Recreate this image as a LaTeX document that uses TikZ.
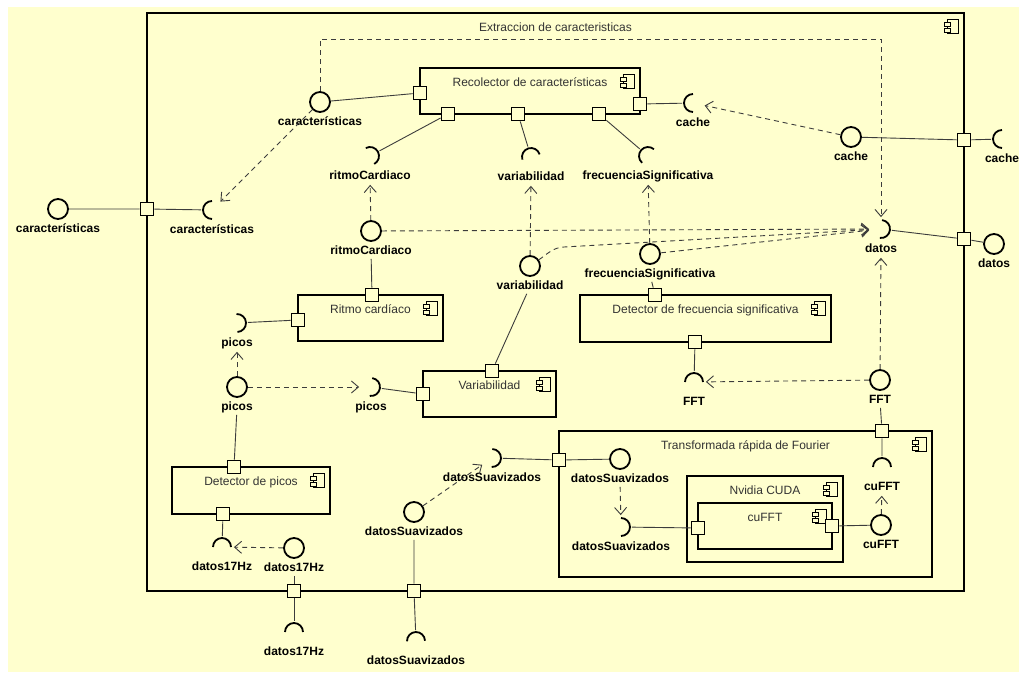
\documentclass[tikz,border=0pt]{standalone}
\usepackage{fontspec}
\setmainfont{Liberation Sans}
\usepackage{xcolor}
\definecolor{umlbg}{RGB}{255,255,206}
\definecolor{umlline}{RGB}{60,60,60}
\definecolor{umltitle}{RGB}{51,51,51}
\usetikzlibrary{positioning, calc, shapes.geometric, arrows.meta}
\tikzstyle{Comp} = [draw, line width=1.8pt, rectangle, inner sep=0pt, outer sep=0pt]
\tikzstyle{Ttl} = [anchor=base, yshift=-18pt, inner sep=0pt, text=umltitle,
        font=\fontsize{12pt}{14pt}\selectfont]
\tikzstyle{Port} = [draw, line width=1.8pt, fill=umlbg, rectangle, minimum size=13pt, inner sep=0pt]
\tikzstyle{Ball} = [draw, line width=1.8pt, circle, minimum size=20pt, inner sep=0pt]
\tikzstyle{Socket} = [circle, line width=1.8pt, minimum size=20pt, inner sep=0pt]
\tikzstyle{Lbl} = [font=\fontsize{12pt}{14pt}\selectfont\bfseries, text height=9pt,
        text depth=3pt, inner sep=1pt, yshift=-2.5pt]
\tikzstyle{Conn} = [umlline, line width=0.9pt]
\tikzstyle{Dep} = [
umlline, line width=0.9pt,
dash pattern=on 5pt off 4pt,
-{Straight Barb[length=7pt,width=12pt]},
shorten >= 1pt]
\tikzset{compicon/.pic={
    \draw[line width=0.8pt] (-4,-7) rectangle (7,7);
    \draw[line width=0.8pt, fill=umlbg] (-7,0.5) rectangle (-1,4.5);
    \draw[line width=0.8pt, fill=umlbg] (-7,-5.5) rectangle (-1,-1.5);
}}
% socket arc, bulging towards the given angle
\newcommand{\sockarc}[2]{\draw[line width=1.8pt] ([shift={(#2+90:9pt)}]#1.center)
    arc[start angle=#2+90, delta angle=-180, radius=9pt];}

\begin{document}
\begin{tikzpicture}[x=1pt, y=1pt, font=\fontsize{12pt}{14pt}\selectfont]
    \useasboundingbox (0,0) rectangle (1019,-672);
    \fill[white] (0,0) rectangle (1019,-672);
    \fill[umlbg] (8,-7) rectangle (1019,-672);

    % components
    \node[Comp, minimum width=817pt, minimum height=578pt,
        label={[Ttl]north:Extraccion de caracteristicas}] (cExt) at (555.5,-302) {};
    \node[Comp, minimum width=220pt, minimum height=46pt,
        label={[Ttl]north:Recolector de características}] (cRec) at (530,-91) {};
    \node[Comp, minimum width=145pt, minimum height=46pt,
        label={[Ttl]north:Ritmo cardíaco}] (cRit) at (370.5,-318) {};
    \node[Comp, minimum width=133pt, minimum height=46pt,
        label={[Ttl]north:Variabilidad}] (cVar) at (489.5,-394) {};
    \node[Comp, minimum width=251pt, minimum height=47pt,
        label={[Ttl]north:Detector de frecuencia significativa}] (cDF) at (705.5,-318.5) {};
    \node[Comp, minimum width=158pt, minimum height=47pt,
        label={[Ttl]north:Detector de picos}] (cPic) at (251,-490.5) {};
    \node[Comp, minimum width=373pt, minimum height=146pt,
        label={[Ttl]north:Transformada rápida de Fourier}] (cTr) at (745.5,-504) {};
    \node[Comp, minimum width=156pt, minimum height=86pt,
        label={[Ttl]north:Nvidia CUDA}] (cNv) at (765,-519) {};
    \node[Comp, minimum width=134pt, minimum height=46pt,
        label={[Ttl]north:cuFFT}] (cCu) at (765,-526) {};
    \foreach \c in {cExt,cRec,cRit,cVar,cDF,cPic,cTr,cNv,cCu}
        \pic at ([shift={(-13,-13.5)}]\c.north east) {compicon};

    % ports
    \node[Port] (pCarOut) at (147,-209) {};
    \node[Port] (pCache) at (964,-140) {};
    \node[Port] (pDatos) at (964,-239) {};
    \node[Port] (pD17) at (294,-591) {};
    \node[Port] (pDS) at (414,-591) {};
    \node[Port] (pRecL) at (420,-93) {};
    \node[Port] (pRecR) at (640,-104) {};
    \node[Port] (pRecB1) at (448,-114) {};
    \node[Port] (pRecB2) at (518,-114) {};
    \node[Port] (pRecB3) at (599,-114) {};
    \node[Port] (pRitT) at (372,-295) {};
    \node[Port] (pRitL) at (298,-320) {};
    \node[Port] (pVarT) at (492,-371) {};
    \node[Port] (pVarL) at (423,-394) {};
    \node[Port] (pDFT) at (655,-295) {};
    \node[Port] (pDFB) at (695,-342) {};
    \node[Port] (pPicT) at (234,-467) {};
    \node[Port] (pPicB) at (223,-514) {};
    \node[Port] (pTrL) at (559,-460) {};
    \node[Port] (pTrT) at (882,-431) {};
    \node[Port] (pCuL) at (698,-528) {};
    \node[Port] (pCuR) at (832,-526) {};

    % provided interfaces
    \node[Ball, label={[Lbl]below:características}] (bCarOut) at (58,-209) {};
    \node[Ball, label={[Lbl]below:características}] (bCarIn) at (320,-102) {};
    \node[Ball, label={[Lbl]below:cache}] (bCache) at (851,-137) {};
    \node[Ball, label={[Lbl]below:datos}] (bDatos) at (994,-244) {};
    \node[Ball, label={[Lbl,name=lRit]below:ritmoCardiaco}] (bRit) at (371,-231) {};
    \node[Ball, label={[Lbl,name=lVar]below:variabilidad}] (bVar) at (530,-266) {};
    \node[Ball, label={[Lbl,name=lFS]below:frecuenciaSignificativa}] (bFS) at (650,-254) {};
    \node[Ball, label={[Lbl,name=lPic]below:picos}] (bPic) at (237,-387) {};
    \node[Ball, label={[Lbl,name=lFFT]below:FFT}] (bFFT) at (880,-380) {};
    \node[Ball, label={[Lbl,name=lD17]below:datos17Hz}] (bD17) at (294,-548) {};
    \node[Ball, label={[Lbl,name=lDS]below:datosSuavizados}] (bDS) at (414,-512) {};
    \node[Ball, label={[Lbl,name=lDSt]below:datosSuavizados}] (bDSt) at (620,-459) {};
    \node[Ball, label={[Lbl]below:cuFFT}] (bCu) at (881,-525) {};

    % required interfaces
    \node[Socket, label={[Lbl]below:características}] (sCar) at (212,-210) {};
    \node[Socket, label={[Lbl]below:cache}] (sCache) at (693,-103) {};
    \node[Socket, label={[Lbl]below:cache}] (sCacheOut) at (1002,-139) {};
    \node[Socket, label={[Lbl,name=lsDatos]below:datos}] (sDatos) at (881,-229) {};
    \node[Socket, label={[Lbl,name=lsRit]below:ritmoCardiaco}] (sRit) at (370,-156) {};
    \node[Socket, label={[Lbl,name=lsVar]below:variabilidad}] (sVar) at (531,-157) {};
    \node[Socket, label={[Lbl,name=lsFS]below:frecuenciaSignificativa}] (sFS) at (648,-156) {};
    \node[Socket, label={[Lbl,name=lsPic]below:picos}] (sPicA) at (237,-323) {};
    \node[Socket, label={[Lbl]below:picos}] (sPicB) at (371,-387) {};
    \node[Socket, label={[Lbl]below:FFT}] (sFFT) at (694,-382) {};
    \node[Socket, label={[Lbl]below:datos17Hz}] (sD17) at (222,-547) {};
    \node[Socket, label={[Lbl]below:datos17Hz}] (sD17Out) at (294,-632) {};
    \node[Socket, label={[Lbl]below:datosSuavizados}] (sDSOut) at (416,-641) {};
    \node[Socket, label={[Lbl]below:datosSuavizados}] (sDS) at (492,-458) {};
    \node[Socket, label={[Lbl]below:datosSuavizados}] (sDSt) at (621,-527) {};
    \node[Socket, label={[Lbl,name=lsCu]below:cuFFT}] (sCu) at (882,-467) {};

    \sockarc{sCar}{180}
    \sockarc{sCache}{180}
    \sockarc{sCacheOut}{180}
    \sockarc{sDatos}{-7}
    \sockarc{sRit}{28}
    \sockarc{sVar}{107}
    \sockarc{sFS}{139}
    \sockarc{sPicA}{3}
    \sockarc{sPicB}{-8}
    \sockarc{sFFT}{90}
    \sockarc{sD17}{90}
    \sockarc{sD17Out}{90}
    \sockarc{sDSOut}{92}
    \sockarc{sDS}{-2}
    \sockarc{sDSt}{0}
    \sockarc{sCu}{90}

    % assembly connectors
    \draw[Conn] (bCarOut) -- (pCarOut) -- (sCar);
    \draw[Conn] (bCarIn) -- (pRecL);
    \draw[Conn] (pRecR) -- (sCache);
    \draw[Conn] (pRecB1) -- (sRit);
    \draw[Conn] (pRecB2) -- (sVar);
    \draw[Conn] (pRecB3) -- (sFS);
    \draw[Conn] (bCache) -- (pCache) -- (sCacheOut);
    \draw[Conn] (sDatos) -- (pDatos) -- (bDatos);
    \draw[Conn] (lRit) -- (pRitT);
    \draw[Conn] (lVar) -- (pVarT);
    \draw[Conn] (lFS) -- (pDFT);
    \draw[Conn] (pRitL) -- (sPicA);
    \draw[Conn] (lPic) -- (pPicT);
    \draw[Conn] (sPicB) -- (pVarL);
    \draw[Conn] (pPicB) -- (sD17);
    \draw[Conn] (lD17) -- (pD17) -- (sD17Out);
    \draw[Conn] (lDS) -- (pDS) -- (sDSOut);
    \draw[Conn] (sDS) -- (pTrL) -- (bDSt);
    \draw[Conn] (sDSt) -- (pCuL);
    \draw[Conn] (pCuR) -- (bCu);
    \draw[Conn] (lFFT) -- (pTrT) -- (sCu);
    \draw[Conn] (pDFB) -- (sFFT);

    % dependencies
    \coordinate (vBend) at (564,-247);
    \draw[Dep] (bCarIn) -- (sCar);
    \draw[Dep] (bCarIn.north) -- ++(0,52) -| (sDatos);
    \draw[Dep] (bCache) -- (sCache);
    \draw[Dep] (bRit) -- (lsRit);
    \draw[Dep] (bVar) -- (lsVar);
    \draw[Dep] (bFS) -- (lsFS);
    \draw[Dep] (bRit) -- (sDatos);
    \draw[Dep] (bVar) to[out=35, in=183] (vBend) -- (sDatos);
    \draw[Dep] (bFS) -- (sDatos);
    \draw[Dep] (bFFT) -- (lsDatos);
    \draw[Dep] (bFFT) -- (sFFT);
    \draw[Dep] (bPic) -- (lsPic);
    \draw[Dep] (bPic) -- (sPicB);
    \draw[Dep] (bD17) -- (sD17);
    \draw[Dep] (bDS) -- (sDS);
    \draw[Dep] (lDSt) -- (sDSt);
    \draw[Dep] (bCu) -- (lsCu);
\end{tikzpicture}
\end{document}
